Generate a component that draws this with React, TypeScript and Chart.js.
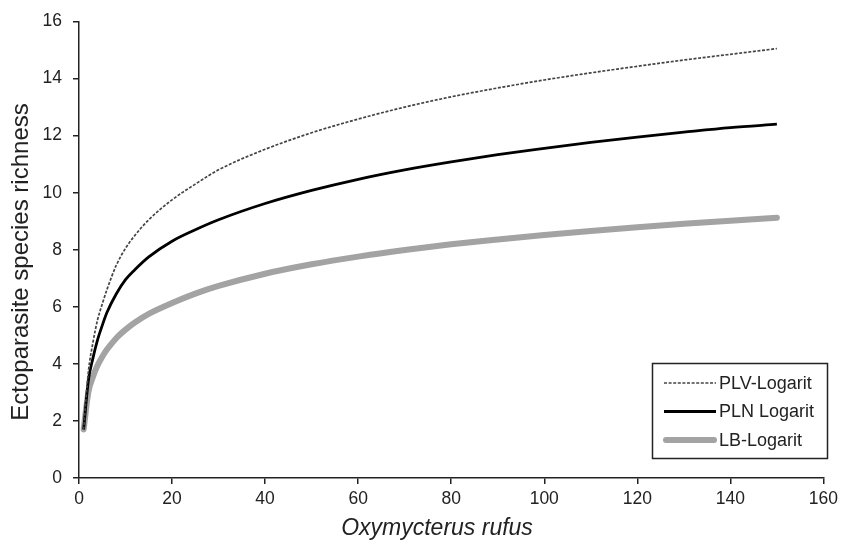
import React, { useEffect, useRef } from "react";
import { Chart, registerables } from "chart.js";

Chart.register(...registerables);

const xValues = [1, 2, 3, 4, 5, 6, 8, 10, 12, 15, 20, 25, 30, 40, 50, 60, 70, 80, 90, 100, 110, 120, 130, 140, 150];
const plvValues = [1.7, 3.7, 4.75, 5.55, 6.1, 6.6, 7.45, 8.05, 8.5, 9.05, 9.75, 10.3, 10.8, 11.52, 12.1, 12.58, 13.0, 13.36, 13.67, 13.95, 14.2, 14.43, 14.65, 14.85, 15.05];
const plnValues = [1.7, 3.4, 4.2, 4.85, 5.35, 5.8, 6.45, 6.95, 7.3, 7.75, 8.3, 8.7, 9.05, 9.62, 10.08, 10.47, 10.8, 11.08, 11.33, 11.55, 11.76, 11.95, 12.12, 12.28, 12.4];
const lbValues = [1.7, 3.0, 3.55, 3.95, 4.25, 4.5, 4.9, 5.2, 5.45, 5.75, 6.13, 6.46, 6.73, 7.16, 7.49, 7.76, 7.99, 8.19, 8.36, 8.52, 8.66, 8.79, 8.91, 9.02, 9.12];
const seriesLabels = ["PLV-Logarit", "PLN Logarit", "LB-Logarit"];
const xTitle = "Oxymycterus rufus";
const yTitle = "Ectoparasite species richness";

const FONT = "'Liberation Sans', Arial, sans-serif";

const toPoints = (ys: number[]) => xValues.map((x, i) => ({ x, y: ys[i] }));

const titlesPlugin = {
  id: "titles",
  afterDraw(chart: any) {
    const ctx = chart.ctx;
    ctx.save();
    ctx.fillStyle = "#222";
    ctx.textAlign = "center";
    ctx.textBaseline = "middle";
    ctx.font = `italic 23px ${FONT}`;
    ctx.fillText(xTitle, 437, 529);
    ctx.translate(21, 262);
    ctx.rotate(-Math.PI / 2);
    ctx.font = `24px ${FONT}`;
    ctx.fillText(yTitle, 0, 0);
    ctx.restore();
  },
};

const legendPlugin = {
  id: "boxLegend",
  afterDraw(chart: any) {
    const ctx = chart.ctx;
    ctx.save();
    ctx.fillStyle = "#fff";
    ctx.fillRect(652, 363, 175, 95);
    ctx.strokeStyle = "#222";
    ctx.lineWidth = 1.5;
    ctx.strokeRect(652.5, 363.5, 175, 95);
    const rows = [383, 411.5, 440];
    chart.data.datasets.forEach((ds: any, i: number) => {
      const y = rows[i];
      ctx.beginPath();
      ctx.strokeStyle = ds.borderColor;
      ctx.lineWidth = ds.borderWidth;
      ctx.lineCap = ds.borderCapStyle || "butt";
      ctx.setLineDash(ds.borderDash || []);
      const x0 = ds.borderCapStyle === "round" ? 666 : 664;
      const x1 = ds.borderCapStyle === "round" ? 714 : 716;
      ctx.moveTo(x0, y);
      ctx.lineTo(x1, y);
      ctx.stroke();
      ctx.setLineDash([]);
      ctx.fillStyle = "#222";
      ctx.font = `18px ${FONT}`;
      ctx.textAlign = "left";
      ctx.textBaseline = "middle";
      ctx.fillText(ds.label, 719, y + 1);
    });
    ctx.restore();
  },
};

export default function App() {
  const ref = useRef<HTMLCanvasElement>(null);

  useEffect(() => {
    const canvas = ref.current;
    if (!canvas) return;
    const chart = new Chart(canvas, {
      type: "line",
      data: {
        datasets: [
          {
            label: seriesLabels[0],
            data: toPoints(plvValues),
            borderColor: "#444",
            borderWidth: 1.7,
            borderDash: [3, 1.6],
            pointRadius: 0,
            cubicInterpolationMode: "monotone",
            fill: false,
          },
          {
            label: seriesLabels[1],
            data: toPoints(plnValues),
            borderColor: "#000",
            borderWidth: 2.8,
            pointRadius: 0,
            cubicInterpolationMode: "monotone",
            fill: false,
          },
          {
            label: seriesLabels[2],
            data: toPoints(lbValues),
            borderColor: "#a3a3a3",
            borderWidth: 6,
            borderCapStyle: "round",
            pointRadius: 0,
            cubicInterpolationMode: "monotone",
            fill: false,
          },
        ],
      },
      options: {
        animation: false,
        responsive: false,
        devicePixelRatio: 1,
        layout: { padding: { top: 21, right: 15, left: 0, bottom: 0 } },
        plugins: {
          legend: { display: false },
          tooltip: { enabled: false },
        },
        scales: {
          x: {
            type: "linear",
            min: 0,
            max: 160,
            ticks: {
              stepSize: 20,
              color: "#222",
              font: { family: FONT, size: 17.5 },
              padding: 5,
              maxRotation: 0,
            },
            grid: {
              drawOnChartArea: false,
              drawTicks: true,
              tickLength: 6,
              color: "#222",
              lineWidth: 1.5,
            },
            border: { display: true, color: "#222", width: 1.5 },
            afterFit(scale: any) {
              scale.height = 63;
            },
          },
          y: {
            min: 0,
            max: 16,
            ticks: {
              stepSize: 2,
              color: "#222",
              font: { family: FONT, size: 17.5 },
              padding: 11,
            },
            grid: {
              drawOnChartArea: false,
              drawTicks: true,
              tickLength: 6,
              color: "#222",
              lineWidth: 1.5,
            },
            border: { display: true, color: "#222", width: 1.5 },
            afterFit(scale: any) {
              scale.width = 79;
            },
          },
        },
      },
      plugins: [titlesPlugin, legendPlugin],
    } as any);
    return () => chart.destroy();
  }, []);

  return (
    <div style={{ position: "fixed", left: 0, top: 0, width: 843, height: 541, background: "#fff" }}>
      <canvas ref={ref} width={843} height={541} style={{ width: 843, height: 541, display: "block" }} />
    </div>
  );
}
